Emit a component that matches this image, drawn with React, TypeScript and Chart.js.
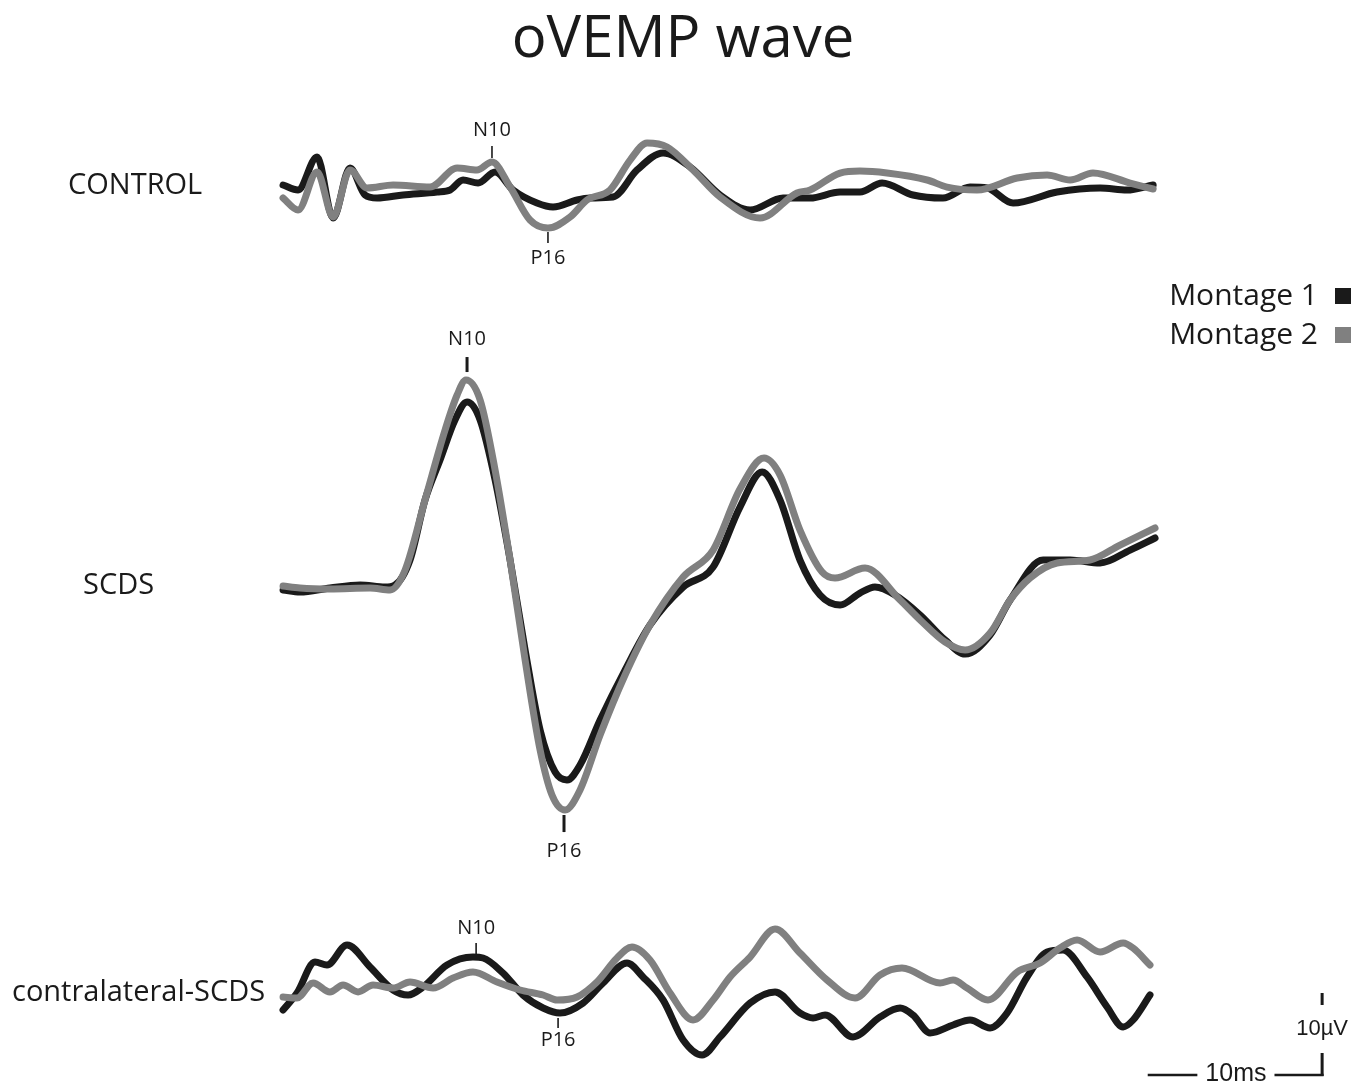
import React, { useEffect, useRef } from "react";
import { Chart, registerables } from "chart.js";

Chart.register(...registerables);

// ---------- DATA (time in ms, amplitude in µV, up = positive) ----------
const controlM1Times = [0, 0.86, 1.95, 2.87, 3.84, 4.7, 5.39, 6.88, 8.83, 9.58, 10.32, 11.18, 12.16, 13.19, 14.56, 15.48, 16.86, 17.6, 18.92, 20.3, 21.79, 23.34, 25.06, 26.78, 28.67, 30.22, 31.94, 33.08, 34.35, 36.12, 37.84, 39.39, 40.37, 41.86, 44.38, 46.85, 48.39, 49.89];
const controlM1Values = [0.37, -0.24, 3.78, -3.66, 2.44, -0.85, -1.22, -0.85, -0.49, -0.24, 0.98, 0.61, 1.95, -0.24, -1.83, -2.32, -1.46, -1.22, -1.1, 2.2, 4.27, 2.56, -0.85, -2.68, -1.22, -1.22, -0.49, -0.49, 0.61, -0.85, -1.22, 0.12, 0.0, -1.83, -0.49, 0.0, -0.24, 0.37];

const controlM2Times = [0, 0.86, 1.95, 2.87, 3.84, 4.82, 6.31, 8.43, 9.98, 11.12, 11.98, 13.02, 14.16, 15.19, 16.46, 17.43, 18.75, 19.9, 20.87, 22.02, 23.51, 25.06, 27.35, 29.47, 30.22, 31.94, 33.08, 34.63, 36.93, 38.07, 39.79, 42.09, 43.81, 45.13, 46.44, 48.57, 49.89];
const controlM2Values = [-1.22, -2.68, 1.95, -3.54, 2.2, 0.0, 0.37, 0.12, 2.44, 2.2, 3.17, 0.12, -3.9, -4.88, -3.54, -1.46, -0.24, 3.41, 5.49, 5.0, 2.2, -1.1, -3.66, -0.61, -0.24, 1.83, 2.07, 1.83, 0.98, 0.12, -0.24, 1.22, 1.59, 0.98, 1.83, 0.61, -0.12];

const scdsM1Times = [0, 0.97, 2.69, 4.42, 5.85, 6.42, 7.28, 8.14, 9.0, 9.86, 10.55, 11.3, 12.16, 13.02, 13.88, 14.74, 15.6, 16.28, 17.03, 18.18, 19.61, 21.04, 22.94, 24.66, 26.2, 27.47, 28.5, 29.64, 30.79, 31.94, 33.08, 33.94, 35.09, 36.53, 37.96, 39.11, 40.54, 41.69, 43.58, 45.13, 46.85, 48.57, 50.0];
const scdsM1Values = [-0.24, -0.49, 0.0, 0.37, 0.12, 0.37, 3.41, 10.73, 15.61, 20.49, 22.68, 20.49, 13.17, 3.41, -7.56, -17.32, -22.44, -23.41, -21.59, -16.1, -10.0, -4.51, 0.12, 2.56, 9.88, 14.15, 10.73, 3.41, -0.85, -2.07, -0.61, 0.12, -0.85, -3.29, -6.34, -8.05, -5.73, -1.46, 3.41, 3.41, 3.05, 4.63, 6.1];

const scdsM2Times = [0, 0.97, 2.69, 4.99, 6.14, 7.0, 8.14, 9.29, 9.98, 10.49, 11.3, 12.16, 13.02, 13.88, 14.74, 15.42, 16.17, 17.03, 18.18, 19.61, 21.04, 22.94, 24.66, 26.2, 27.58, 28.5, 29.64, 30.91, 31.65, 33.37, 35.38, 36.53, 37.96, 39.11, 40.54, 41.69, 42.83, 44.38, 46.27, 47.99, 50.0];
const scdsM2Values = [0.24, 0.0, -0.12, 0.0, -0.24, 2.2, 10.73, 19.27, 23.54, 25.37, 22.93, 14.39, 3.41, -8.78, -19.76, -25.24, -27.07, -24.63, -17.93, -10.61, -4.51, 1.34, 4.63, 12.07, 15.85, 13.78, 7.07, 1.95, 1.22, 2.44, -1.46, -3.9, -6.59, -7.56, -5.49, -1.46, 1.22, 3.05, 3.41, 5.24, 7.32];

const contraM1Times = [0, 0.8, 1.83, 2.52, 3.67, 4.99, 6.31, 7.17, 8.03, 9.4, 10.89, 11.47, 12.61, 13.76, 14.91, 15.88, 17.2, 18.35, 19.72, 20.64, 21.79, 22.94, 24.03, 25.06, 26.78, 28.21, 29.64, 30.39, 31.08, 32.68, 34.23, 35.38, 36.12, 37.1, 38.42, 39.39, 40.54, 41.51, 42.66, 43.81, 44.72, 46.1, 47.25, 48.17, 48.74, 49.71];
const contraM1Values = [-1.83, 0.24, 4.02, 3.66, 6.1, 3.41, 0.61, 0.0, 0.98, 3.66, 4.63, 4.51, 2.68, 0.0, -1.59, -2.2, -0.98, 1.46, 3.9, 2.2, -0.61, -5.49, -7.32, -5.12, -0.98, 0.37, -2.2, -2.8, -2.44, -5.12, -2.68, -1.59, -2.44, -4.63, -3.66, -3.05, -4.02, -2.2, 2.2, 5.24, 5.49, 2.2, -1.46, -3.9, -3.05, 0.0];

const contraM2Times = [0, 0.8, 1.72, 2.69, 3.44, 4.3, 5.16, 6.31, 7.28, 8.6, 9.75, 10.89, 12.27, 13.59, 14.91, 15.71, 16.86, 18.0, 19.15, 20.01, 21.04, 22.19, 23.51, 24.66, 25.63, 26.78, 28.21, 29.64, 31.19, 32.8, 34.23, 35.49, 37.67, 38.42, 39.22, 40.42, 42.09, 43.41, 44.55, 45.53, 46.85, 48.17, 48.74, 49.71];
const contraM2Values = [-0.24, -0.37, 1.46, 0.37, 1.22, 0.37, 1.22, 0.85, 1.59, 0.85, 2.07, 2.8, 1.59, 0.61, 0.0, -0.61, -0.24, 1.59, 4.51, 5.85, 4.27, 0.24, -3.05, -0.61, 2.2, 4.63, 8.05, 5.12, 1.83, -0.37, 2.44, 3.29, 1.46, 1.83, 0.85, -0.61, 2.8, 3.9, 5.73, 6.71, 5.24, 6.34, 5.73, 3.66];

const traceNames = ["CONTROL", "SCDS", "contralateral-SCDS"];
const seriesNames = ["Montage 1", "Montage 2"];
const peakNames = ["N10", "P16"];
// peak marker times (ms) per trace: [N10, P16]
const peakTimes = [
  [11.98, 15.19],
  [10.55, 16.11],
  [11.07, 15.77],
];
// marker tick extents and label centre, in µV relative to trace baseline: [tickFrom, tickTo, labelAt]
const peakMarks = [
  [[5.12, 3.66, 7.07], [-5.37, -6.71, -8.54]],
  [[28.17, 26.34, 30.37], [-27.68, -29.76, -32.07]],
  [[6.34, 4.88, 8.17], [-2.8, -4.02, -5.49]],
];
const scaleBarMs = 10;
const scaleBarUV = 10;

// ---------- LAYOUT / STYLE ----------
const W = 1372;
const H = 1087;
const X_MIN = -16.23;
const X_MAX = 62.44;
const Y_MIN = -132.56;
const Y_MAX = 0;
const TRACE_OFFSETS = [-22.93, -71.71, -121.34];
const TRACE_LABEL_X = [68, 83, 12];
const SCALEBAR_CORNER = { t: 59.58, v: -131.1 };
const COLORS = ["#1a1a1a", "#808080"];
const FONT = '"Open Sans", "DejaVu Sans", sans-serif';
const ARIAL = '"Liberation Sans", Arial, sans-serif';

const seriesData: [number[], number[]][][] = [
  [[controlM1Times, controlM1Values], [controlM2Times, controlM2Values]],
  [[scdsM1Times, scdsM1Values], [scdsM2Times, scdsM2Values]],
  [[contraM1Times, contraM1Values], [contraM2Times, contraM2Values]],
];

const overlayPlugin = {
  id: "ovempOverlay",
  afterDatasetsDraw(chart: any) {
    const { ctx } = chart;
    const xs = chart.scales.x;
    const ys = chart.scales.y;
    const ink = "#1a1a1a";
    ctx.save();
    ctx.fillStyle = ink;
    ctx.strokeStyle = ink;

    // title
    ctx.font = `58px ${FONT}`;
    ctx.textAlign = "center";
    ctx.textBaseline = "alphabetic";
    ctx.fillText("oVEMP wave", 683, 57);

    // trace labels
    ctx.font = `29px ${FONT}`;
    ctx.textAlign = "left";
    ctx.textBaseline = "middle";
    traceNames.forEach((name, i) => {
      const py = ys.getPixelForValue(TRACE_OFFSETS[i]);
      ctx.fillText(name, TRACE_LABEL_X[i], py - 2);
    });

    // peak markers
    ctx.font = `20px ${FONT}`;
    ctx.textAlign = "center";
    peakTimes.forEach((times, i) => {
      times.forEach((t, j) => {
        const [a, b, l] = peakMarks[i][j];
        const px = xs.getPixelForValue(t);
        ctx.lineWidth = i === 1 ? 3 : 1.6;
        ctx.beginPath();
        ctx.moveTo(px, ys.getPixelForValue(TRACE_OFFSETS[i] + a));
        ctx.lineTo(px, ys.getPixelForValue(TRACE_OFFSETS[i] + b));
        ctx.stroke();
        ctx.fillText(peakNames[j], px, ys.getPixelForValue(TRACE_OFFSETS[i] + l));
      });
    });

    // legend
    ctx.font = `30px ${FONT}`;
    ctx.textAlign = "right";
    seriesNames.forEach((name, k) => {
      const cy = 296 + k * 39;
      ctx.fillStyle = ink;
      ctx.fillText(name, 1318, cy);
      ctx.fillStyle = COLORS[k];
      ctx.fillRect(1335, cy - 8, 16, 16);
    });

    // scale bars
    ctx.fillStyle = ink;
    const cx = xs.getPixelForValue(SCALEBAR_CORNER.t);
    const cy = ys.getPixelForValue(SCALEBAR_CORNER.v);
    const lx = xs.getPixelForValue(SCALEBAR_CORNER.t - scaleBarMs);
    const ty = ys.getPixelForValue(SCALEBAR_CORNER.v + scaleBarUV);
    ctx.textAlign = "center";
    ctx.textBaseline = "middle";
    // horizontal
    ctx.font = `25px ${ARIAL}`;
    const hMid = (cx + lx) / 2 + 1;
    const hw = ctx.measureText("10ms").width / 2 + 8;
    ctx.fillText("10ms", hMid, cy - 1);
    ctx.lineWidth = 2.5;
    ctx.beginPath();
    ctx.moveTo(lx, cy);
    ctx.lineTo(hMid - hw, cy);
    ctx.moveTo(hMid + hw, cy);
    ctx.lineTo(cx + 1.5, cy);
    ctx.stroke();
    // vertical
    ctx.font = `22px ${ARIAL}`;
    const vMid = (cy + ty) / 2 - 5;
    ctx.fillText("10µV", cx, vMid);
    ctx.lineWidth = 3;
    ctx.beginPath();
    ctx.moveTo(cx, ty);
    ctx.lineTo(cx, ty + 12);
    ctx.moveTo(cx, vMid + 24);
    ctx.lineTo(cx, cy + 1);
    ctx.stroke();

    ctx.restore();
  },
};

export default function App() {
  const canvasRef = useRef<HTMLCanvasElement | null>(null);

  useEffect(() => {
    if (!canvasRef.current) return;
    const datasets: any[] = [];
    seriesData.forEach((pair, i) => {
      pair.forEach(([times, values], k) => {
        datasets.push({
          label: `${traceNames[i]} – ${seriesNames[k]}`,
          data: times.map((t, n) => ({ x: t, y: values[n] + TRACE_OFFSETS[i] })),
          borderColor: COLORS[k],
          borderWidth: 7,
          borderCapStyle: "round",
          borderJoinStyle: "round",
          pointRadius: 0,
          fill: false,
          cubicInterpolationMode: "monotone",
          order: k === 1 ? 0 : 1,
        });
      });
    });
    const chart = new Chart(canvasRef.current, {
      type: "line",
      data: { datasets },
      options: {
        animation: false,
        responsive: true,
        maintainAspectRatio: false,
        layout: { padding: 0 },
        scales: {
          x: { type: "linear", min: X_MIN, max: X_MAX, display: false },
          y: { type: "linear", min: Y_MIN, max: Y_MAX, display: false },
        },
        plugins: {
          legend: { display: false },
          tooltip: { enabled: false },
          title: { display: false },
        },
      },
      plugins: [overlayPlugin],
    });
    return () => chart.destroy();
  }, []);

  return (
    <div style={{ position: "absolute", left: 0, top: 0, width: W, height: H, background: "#fff" }}>
      <canvas ref={canvasRef} />
    </div>
  );
}
